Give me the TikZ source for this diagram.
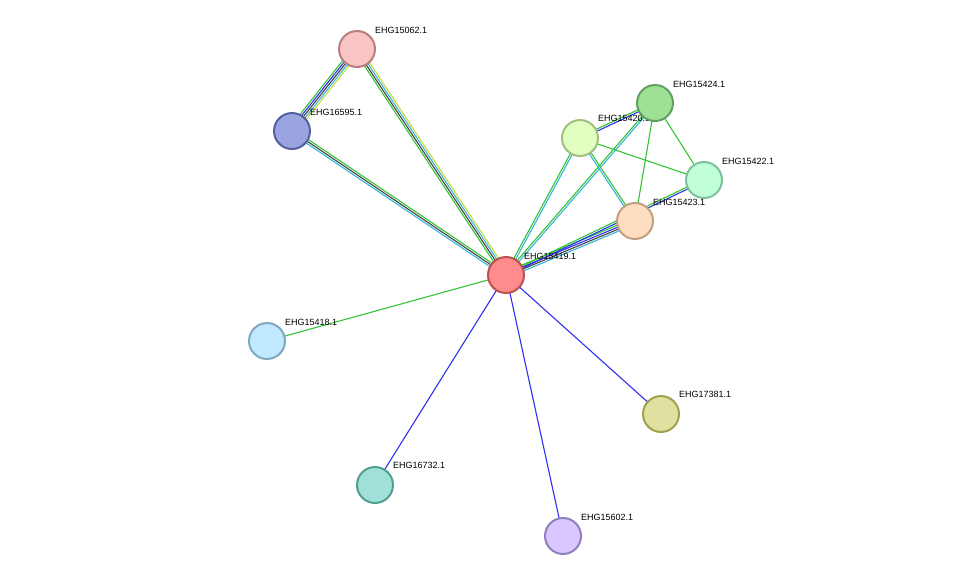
\documentclass[tikz,border=0pt]{standalone}
\usepackage{fontspec}
\setmainfont{Liberation Sans}
\usetikzlibrary{calc}
\definecolor{egreen}{HTML}{33C433}
\definecolor{eblue}{HTML}{3030F0}
\definecolor{eblack}{HTML}{444444}
\definecolor{ecyan}{HTML}{35B5DA}
\definecolor{eyellow}{HTML}{C8DA38}
% one strand per colour, offsets in px
\newcommand{\bundle}[3]{%
  \foreach \c/\o in {#3}
    \draw[\c,line width=1.1pt] ($(#1)!\o pt!90:(#2)$) -- ($(#2)!\o pt!-90:(#1)$);}
\begin{document}
\begin{tikzpicture}[x=1pt,y=-1pt,
    prot/.style={circle,minimum size=36pt,line width=2pt,inner sep=0pt},
    lbl/.style={anchor=south west,font=\fontsize{9}{10}\selectfont,inner sep=0pt}]
  \useasboundingbox (0,0) rectangle (975,582);
  % positions
  \coordinate (c19) at (506,275);
  \coordinate (c62) at (357,49);
  \coordinate (c95) at (292,131);
  \coordinate (c20) at (580,138);
  \coordinate (c24) at (655,103);
  \coordinate (c22) at (704,180);
  \coordinate (c23) at (635,221);
  \coordinate (c18) at (267,341);
  \coordinate (c32) at (375,485);
  \coordinate (c02) at (563,536);
  \coordinate (c81) at (661,414);

  % edges
  \bundle{c19}{c95}{egreen/-2,eblack/0,ecyan/2}
  \bundle{c19}{c62}{egreen/3,eblack/1,ecyan/-1,eyellow/-3}
  \bundle{c95}{c62}{egreen/4,eblue/2,eblack/0,ecyan/-2,eyellow/-4}
  \bundle{c19}{c20}{egreen/1,ecyan/-1}
  \bundle{c19}{c24}{egreen/1,ecyan/-1}
  \bundle{c19}{c23}{egreen/3,eblue/1,eblack/-1,ecyan/-3}
  \bundle{c19}{c22}{egreen/1,eblue/-1}
  \bundle{c20}{c24}{egreen/1,eblue/-1}
  \bundle{c20}{c22}{egreen/0}
  \bundle{c20}{c23}{egreen/1,ecyan/-1}
  \bundle{c24}{c23}{egreen/0}
  \bundle{c24}{c22}{egreen/0}
  \bundle{c19}{c18}{egreen/0}
  \bundle{c19}{c32}{eblue/0}
  \bundle{c19}{c02}{eblue/0}
  \bundle{c19}{c81}{eblue/0}

  % proteins
  \node[prot,fill={rgb,255:red,255;green,140;blue,140},draw={rgb,255:red,190;green,80;blue,80}] (n19) at (c19) {};
  \node[lbl] at (524,260) {EHG15419.1};
  \node[prot,fill={rgb,255:red,248;green,196;blue,196},draw={rgb,255:red,184;green,127;blue,127}] (n62) at (c62) {};
  \node[lbl] at (375,34) {EHG15062.1};
  \node[prot,fill={rgb,255:red,154;green,164;blue,224},draw={rgb,255:red,85;green,96;blue,160}] (n95) at (c95) {};
  \node[lbl] at (310,116) {EHG16595.1};
  \node[prot,fill={rgb,255:red,224;green,255;blue,192},draw={rgb,255:red,160;green,192;blue,128}] (n20) at (c20) {};
  \node[lbl] at (598,122) {EHG15420.1};
  \node[prot,fill={rgb,255:red,160;green,224;blue,150},draw={rgb,255:red,96;green,160;blue,96}] (n24) at (c24) {};
  \node[lbl] at (673,88) {EHG15424.1};
  \node[prot,fill={rgb,255:red,192;green,255;blue,216},draw={rgb,255:red,128;green,192;blue,160}] (n22) at (c22) {};
  \node[lbl] at (722,165) {EHG15422.1};
  \node[prot,fill={rgb,255:red,255;green,221;blue,192},draw={rgb,255:red,192;green,160;blue,128}] (n23) at (c23) {};
  \node[lbl] at (653,206) {EHG15423.1};
  \node[prot,fill={rgb,255:red,192;green,232;blue,255},draw={rgb,255:red,128;green,168;blue,192}] (n18) at (c18) {};
  \node[lbl] at (285,326) {EHG15418.1};
  \node[prot,fill={rgb,255:red,160;green,224;blue,216},draw={rgb,255:red,80;green,160;blue,144}] (n32) at (c32) {};
  \node[lbl] at (393,469) {EHG16732.1};
  \node[prot,fill={rgb,255:red,216;green,200;blue,255},draw={rgb,255:red,144;green,128;blue,192}] (n02) at (c02) {};
  \node[lbl] at (581,521) {EHG15602.1};
  \node[prot,fill={rgb,255:red,224;green,224;blue,160},draw={rgb,255:red,160;green,160;blue,80}] (n81) at (c81) {};
  \node[lbl] at (679,398) {EHG17381.1};
\end{tikzpicture}
\end{document}
